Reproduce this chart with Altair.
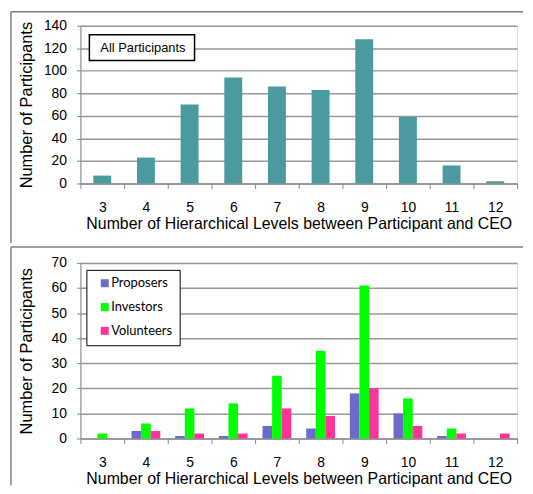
import altair as alt
import pandas as pd

# ---- data ----
levels = [3, 4, 5, 6, 7, 8, 9, 10, 11, 12]
all_participants = [7, 23, 70, 94, 86, 83, 128, 59, 16, 2]
proposers = [0, 3, 1, 1, 5, 4, 18, 10, 1, 0]
investors = [2, 6, 12, 14, 25, 35, 61, 16, 4, 0]
volunteers = [0, 3, 2, 2, 12, 9, 20, 5, 2, 2]
series_names = ["Proposers", "Investors", "Volunteers"]
series_colors = ["#6B6BCC", "#00FF00", "#FF3399"]
top_label = ["All Participants"]
top_color = "#4A9AA0"
top_ticks = [0, 20, 40, 60, 80, 100, 120, 140]
bottom_ticks = [0, 10, 20, 30, 40, 50, 60, 70]
x_title = "Number of Hierarchical Levels between Participant and CEO"
y_title = "Number of Participants"

FONT = "Liberation Sans"
GRID = "#999999"
AXISC = "#888888"
FRAME = "#808080"

top_df = pd.DataFrame({"Level": levels, "Count": all_participants})
rows = []
for name, vals in zip(series_names, [proposers, investors, volunteers]):
    for lv, v in zip(levels, vals):
        rows.append({"Level": lv, "Series": name, "Count": v})
bottom_df = pd.DataFrame(rows)
frame_df = pd.DataFrame({"k": [0]})
label_df = pd.DataFrame({"label": top_label})


def x_axis():
    return alt.Axis(title=x_title, labelAngle=0, tickBand="extent", tickSize=5,
                    tickColor=AXISC, domainColor=AXISC, labelFont=FONT, labelFontSize=14,
                    labelColor="black", labelPadding=12, titleFont=FONT, titleFontSize=16,
                    titleFontWeight="normal", titleColor="black", titlePadding=1, grid=False)


def y_axis(vals):
    return alt.Axis(title=y_title, values=vals, tickSize=4, tickColor=AXISC, domainColor=AXISC,
                    gridColor=GRID, gridWidth=1.5, labelFont=FONT, labelFontSize=14,
                    labelColor="black", labelPadding=10, titleFont=FONT, titleFontSize=16.5,
                    titleFontWeight="normal", titleColor="black", titlePadding=8,
                    minExtent=38, maxExtent=38)


def frame(y_top, y_bottom):
    v = alt.Chart(frame_df).mark_rule(color=FRAME, strokeWidth=1.5).encode(
        x=alt.value(-70), y=alt.value(y_top), y2=alt.value(y_bottom))
    h = alt.Chart(frame_df).mark_rule(color=FRAME, strokeWidth=1.5).encode(
        x=alt.value(-70), x2=alt.value(446), y=alt.value(y_top))
    return v + h


xscale = alt.Scale(paddingInner=0, paddingOuter=0)

bars_top = alt.Chart(top_df).mark_bar(width=alt.RelativeBandSize(0.41), color=top_color).encode(
    x=alt.X("Level:O", scale=xscale, axis=x_axis()),
    y=alt.Y("Count:Q", scale=alt.Scale(domain=[0, 140]), axis=y_axis(top_ticks)),
)

label_box = alt.Chart(label_df).mark_rect(fill="white", stroke="black", strokeWidth=1.5).encode(
    x=alt.value(9), x2=alt.value(115), y=alt.value(9), y2=alt.value(35))
label_text = alt.Chart(label_df).mark_text(
    font=FONT, fontSize=13, color="black", align="left", baseline="middle").encode(
    x=alt.value(20), y=alt.value(22.5), text="label:N")

bars_bottom = alt.Chart(bottom_df).mark_bar().encode(
    x=alt.X("Level:O", scale=xscale, axis=x_axis()),
    xOffset=alt.XOffset("Series:N", sort=series_names,
                        scale=alt.Scale(paddingInner=0, paddingOuter=0.775)),
    y=alt.Y("Count:Q", scale=alt.Scale(domain=[0, 70]), axis=y_axis(bottom_ticks)),
    color=alt.Color("Series:N", sort=series_names,
                    scale=alt.Scale(domain=series_names, range=series_colors),
                    legend=alt.Legend(title=None, orient="none", legendX=6, legendY=7,
                                      symbolType="square", symbolSize=64, symbolStrokeWidth=0,
                                      symbolOffset=5, labelOffset=0, labelFont="Lato",
                                      labelFontSize=13, labelColor="black", rowPadding=10,
                                      padding=7, strokeColor="black", fillColor="white",
                                      cornerRadius=0)),
)

top = alt.layer(frame(-14, 219), bars_top, label_box, label_text).properties(width=440, height=159)
bottom = alt.layer(frame(-16, 224), bars_bottom).properties(width=440, height=177)

chart = alt.vconcat(top, bottom, spacing=0).resolve_scale(
    color="independent").resolve_legend(color="independent").properties(
    padding={"left": 1, "top": 0, "right": 0, "bottom": 0}
).configure_view(stroke=None).configure(background="white")

chart.save("out.html", embed_options={"renderer": "svg", "actions": False})
